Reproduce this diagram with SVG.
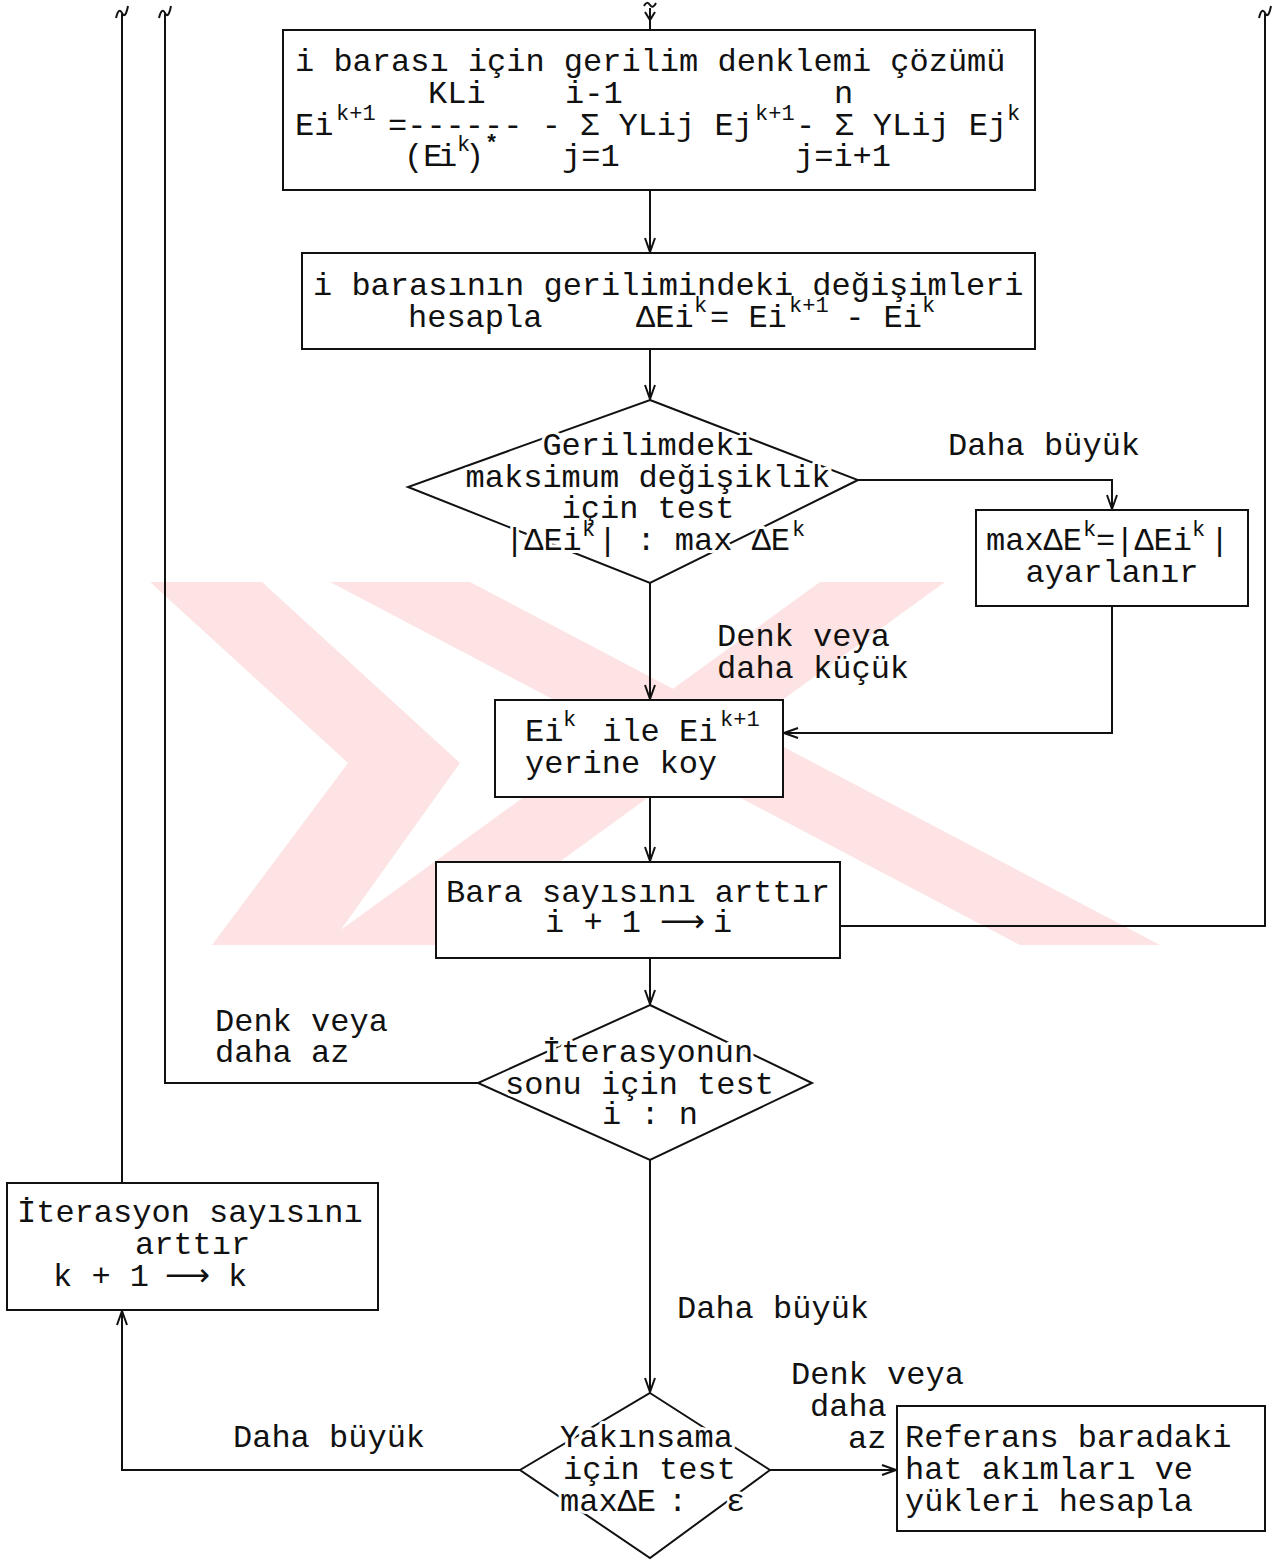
<svg xmlns="http://www.w3.org/2000/svg" width="1287" height="1561" viewBox="0 0 1287 1561">
  <style>
    .t { font-family: "Liberation Mono", "DejaVu Sans Mono", monospace; font-size: 32px; fill: #111; white-space: pre; }
    .s { font-size: 22px; }
    .ar { font-family: "DejaVu Sans", sans-serif; }
    .cut { stroke: #fff; stroke-width: 6px; paint-order: stroke; stroke-linejoin: round; }
    .box { fill: #fff; stroke: #111; stroke-width: 2; }
    .wire { fill: none; stroke: #111; stroke-width: 2; }
    .mark { fill: #fde3e3; }
  </style>
  <defs>
    <marker id="arr" viewBox="0 0 16 12" refX="15" refY="6" markerWidth="16" markerHeight="12" markerUnits="userSpaceOnUse" orient="auto">
      <path d="M1,1 L15,6 L1,11" fill="none" stroke="#111" stroke-width="2"/>
    </marker>
  </defs>
  <rect width="1287" height="1561" fill="#fff"/>

  <!-- background emblem -->
  <g id="emblem">
    <polygon class="mark" points="150,582 262,582 460,763 330,945 212,945 348,763"/>
    <polygon class="mark" points="330,582 470,582 1160,945 1020,945"/>
    <polygon class="mark" points="820,582 945,582 445,945 320,945"/>
  </g>

  <!-- connectors -->
  <g id="connectors">
    <path class="wire" d="M650,8 V29"/>
    <path class="wire" d="M645,12 L650,20 L655,12"/>
    <path class="wire" d="M644,6 c2,-4 4,-4 6,-1 s4,2 6,-2"/>
    <path class="wire" d="M650,190 V252" marker-end="url(#arr)"/>
    <path class="wire" d="M650,349 V399" marker-end="url(#arr)"/>
    <path class="wire" d="M858,480 H1112 V509" marker-end="url(#arr)"/>
    <path class="wire" d="M650,583 V699" marker-end="url(#arr)"/>
    <path class="wire" d="M1112,606 V733 H784" marker-end="url(#arr)"/>
    <path class="wire" d="M650,797 V861" marker-end="url(#arr)"/>
    <path class="wire" d="M840,926 H1265 V14"/>
    <path class="wire" d="M1259,18 c2,-8 4,-9 6,-5 s4,3 6,-7"/>
    <path class="wire" d="M650,958 V1004" marker-end="url(#arr)"/>
    <path class="wire" d="M478,1083 H165 V14"/>
    <path class="wire" d="M159,18 c2,-8 4,-9 6,-5 s4,3 6,-7"/>
    <path class="wire" d="M650,1160 V1392" marker-end="url(#arr)"/>
    <path class="wire" d="M520,1470 H122 V1311" marker-end="url(#arr)"/>
    <path class="wire" d="M122,1183 V14"/>
    <path class="wire" d="M116,18 c2,-8 4,-9 6,-5 s4,3 6,-7"/>
    <path class="wire" d="M770,1470 H896" marker-end="url(#arr)"/>
  </g>

  <!-- edge labels -->
  <g id="labels">
    <text class="t" x="948" y="455">Daha büyük</text>
    <text class="t" x="717" y="646">Denk veya</text>
    <text class="t" x="717" y="678">daha küçük</text>
    <text class="t" x="215" y="1031">Denk veya</text>
    <text class="t" x="215" y="1062">daha az</text>
    <text class="t" x="677" y="1318">Daha büyük</text>
    <text class="t" x="233" y="1447">Daha büyük</text>
    <text class="t" x="791" y="1384">Denk veya</text>
    <text class="t" x="810" y="1416">daha</text>
    <text class="t" x="848" y="1448">az</text>
  </g>

  <!-- voltage equation for bus i -->
  <g id="solve">
    <rect class="box" x="283" y="30" width="752" height="160"/>
    <text class="t" x="295" y="71">i barası için gerilim denklemi çözümü</text>
    <text class="t" y="103"><tspan x="428">KLi</tspan><tspan x="565">i-1</tspan><tspan x="834">n</tspan></text>
    <text class="t" x="295" y="135">Ei</text>
    <text class="t s" x="336" y="120">k+1</text>
    <text class="t" x="388" y="135">=------ - Σ YLij Ej</text>
    <text class="t s" x="755" y="120">k+1</text>
    <text class="t" x="796" y="135">- Σ YLij Ej</text>
    <text class="t s" x="1007" y="120">k</text>
    <text class="t" x="404" y="166">(E</text>
    <text class="t" x="438" y="166">i</text>
    <text class="t s" x="457" y="151">k</text>
    <text class="t" x="465" y="166">)</text>
    <text class="t s" x="485" y="150" font-weight="bold">*</text>
    <text class="t" y="166"><tspan x="562">j=1</tspan><tspan x="795">j=i+1</tspan></text>
  </g>

  <!-- voltage change of bus i -->
  <g id="delta">
    <rect class="box" x="302" y="253" width="733" height="96"/>
    <text class="t" x="313" y="295">i barasının gerilimindeki değişimleri</text>
    <text class="t" x="408" y="327">hesapla</text>
    <text class="t" x="636" y="327">ΔEi</text>
    <text class="t s" x="694" y="312">k</text>
    <text class="t" x="710" y="327">= Ei</text>
    <text class="t s" x="789" y="312">k+1</text>
    <text class="t" x="826" y="327"> - Ei</text>
    <text class="t s" x="922" y="312">k</text>
  </g>

  <!-- max change test -->
  <g id="maxtest">
    <polygon class="box" points="650,400 858,480 650,583 408,487"/>
    <text class="t cut" x="648" y="455" text-anchor="middle">Gerilimdeki</text>
    <text class="t cut" x="648" y="487" text-anchor="middle">maksimum değişiklik</text>
    <text class="t cut" x="648" y="518" text-anchor="middle">için test</text>
    <text class="t cut" x="505" y="550">|ΔEi</text>
    <text class="t s" x="582" y="536">k</text>
    <text class="t cut" x="598" y="550">| : max ΔE</text>
    <text class="t s" x="792" y="536">k</text>
  </g>

  <!-- set max change -->
  <g id="setmax">
    <rect class="box" x="976" y="510" width="272" height="96"/>
    <text class="t" x="986" y="550">maxΔE</text>
    <text class="t s" x="1083" y="536">k</text>
    <text class="t" x="1096" y="550">=|ΔEi</text>
    <text class="t s" x="1192" y="536">k</text>
    <text class="t" x="1210" y="550">|</text>
    <text class="t" x="1112" y="582" text-anchor="middle">ayarlanır</text>
  </g>

  <!-- replace Ei^k -->
  <g id="replace">
    <rect class="box" x="495" y="700" width="288" height="97"/>
    <text class="t" x="525" y="741">Ei</text>
    <text class="t s" x="563" y="726">k</text>
    <text class="t" x="583" y="741"> ile Ei</text>
    <text class="t s" x="720" y="726">k+1</text>
    <text class="t" x="525" y="773">yerine koy</text>
  </g>

  <!-- bus counter -->
  <g id="nextbus">
    <rect class="box" x="436" y="862" width="404" height="96"/>
    <text class="t" x="446" y="902">Bara sayısını arttır</text>
    <text class="t" x="545" y="932">i + 1</text>
    <text class="t ar" x="660" y="932" textLength="45" lengthAdjust="spacingAndGlyphs">⟶</text>
    <text class="t" x="713" y="932">i</text>
  </g>

  <!-- end of iteration test -->
  <g id="endtest">
    <polygon class="box" points="650,1005 812,1083 650,1160 478,1083"/>
    <text class="t cut" x="542" y="1062">İterasyonun</text>
    <text class="t cut" x="505" y="1094">sonu için test</text>
    <text class="t cut" x="650" y="1124" text-anchor="middle">i : n</text>
  </g>

  <!-- iteration counter -->
  <g id="nextiter">
    <rect class="box" x="7" y="1183" width="371" height="127"/>
    <text class="t" x="17" y="1222">İterasyon sayısını</text>
    <text class="t" x="135" y="1254">arttır</text>
    <text class="t" x="53" y="1286">k + 1</text>
    <text class="t ar" x="165" y="1286" textLength="45" lengthAdjust="spacingAndGlyphs">⟶</text>
    <text class="t" x="228" y="1286">k</text>
  </g>

  <!-- convergence test -->
  <g id="convtest">
    <polygon class="box" points="650,1393 770,1470 650,1558 520,1470"/>
    <text class="t cut" x="560" y="1447">Yakınsama</text>
    <text class="t cut" x="563" y="1479">için test</text>
    <text class="t cut" x="560" y="1511">maxΔE</text>
    <text class="t cut" x="668" y="1511">:</text>
    <text class="t cut" x="726" y="1511">ε</text>
  </g>

  <!-- reference bus results -->
  <g id="results">
    <rect class="box" x="897" y="1406" width="368" height="125"/>
    <text class="t" x="905" y="1447">Referans baradaki</text>
    <text class="t" x="905" y="1479">hat akımları ve</text>
    <text class="t" x="905" y="1511">yükleri hesapla</text>
  </g>
</svg>
